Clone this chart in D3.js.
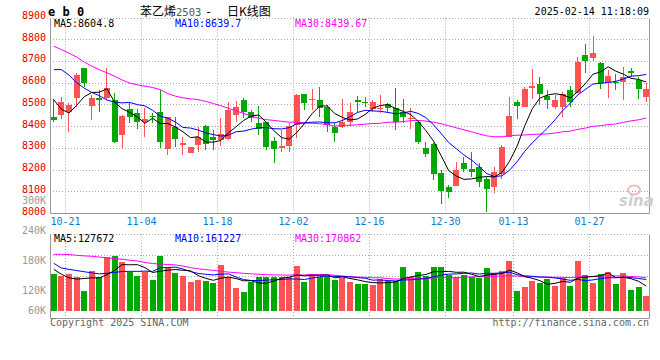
<!DOCTYPE html>
<html><head><meta charset="utf-8">
<script src="https://cdn.jsdelivr.net/npm/d3@7"></script>
<style>body{margin:0;background:#fff}svg{display:block}text{font-family:"DejaVu Sans Mono",monospace;font-size:10px}</style>
</head><body><svg id="c" width="660" height="360"></svg>
<script>
const dates=["10-18","10-21","10-22","10-23","10-24","10-25","10-28","10-29","10-30","10-31","11-01","11-04","11-05","11-06","11-07","11-08","11-11","11-12","11-13","11-14","11-15","11-18","11-19","11-20","11-21","11-22","11-25","11-26","11-27","11-28","11-29","12-02","12-03","12-04","12-05","12-06","12-09","12-10","12-11","12-12","12-13","12-16","12-17","12-18","12-19","12-20","12-23","12-24","12-25","12-26","12-27","12-30","12-31","01-02","01-03","01-06","01-07","01-08","01-09","01-10","01-13","01-14","01-15","01-16","01-17","01-20","01-21","01-22","01-23","01-24","01-27","02-05","02-06","02-07","02-10","02-11","02-12","02-13","02-14"];
const open=[8441,8449,8467,8529,8669,8493,8531,8531,8521,8360,8480,8462,8417,8447,8467,8294,8395,8314,8276,8314,8401,8348,8337,8340,8452,8521,8467,8414,8417,8332,8297,8309,8406,8549,8522,8521,8487,8395,8398,8417,8521,8513,8478,8480,8503,8483,8467,8434,8421,8299,8319,8184,8120,8126,8230,8202,8214,8156,8118,8181,8349,8513,8490,8577,8594,8539,8487,8486,8567,8552,8728,8713,8690,8598,8605,8605,8656,8613,8532];
const high=[8525,8536,8508,8644,8669,8544,8567,8667,8552,8450,8513,8478,8483,8462,8564,8441,8441,8352,8302,8395,8406,8383,8437,8513,8516,8529,8475,8493,8421,8352,8383,8414,8549,8549,8571,8579,8498,8414,8524,8506,8539,8533,8521,8544,8506,8575,8524,8483,8429,8329,8322,8196,8130,8233,8257,8279,8230,8168,8214,8311,8536,8521,8582,8662,8628,8564,8544,8555,8585,8717,8778,8815,8697,8659,8639,8671,8669,8628,8600];
const low=[8417,8432,8371,8487,8582,8429,8467,8521,8322,8299,8414,8386,8352,8414,8299,8268,8306,8268,8274,8279,8291,8291,8309,8337,8421,8438,8420,8360,8291,8230,8283,8283,8345,8472,8475,8444,8371,8325,8391,8401,8463,8490,8467,8460,8463,8380,8414,8386,8319,8257,8150,8043,8069,8126,8191,8168,8120,8003,8092,8156,8349,8434,8487,8524,8498,8478,8478,8441,8490,8552,8644,8702,8570,8529,8567,8518,8628,8524,8509];
const close=[8429,8513,8498,8636,8598,8529,8521,8577,8325,8447,8444,8417,8432,8440,8329,8441,8340,8322,8302,8352,8319,8334,8365,8475,8490,8467,8437,8386,8306,8296,8309,8401,8544,8506,8526,8483,8406,8368,8418,8464,8509,8510,8509,8484,8483,8421,8441,8437,8325,8273,8181,8103,8095,8196,8202,8187,8141,8112,8187,8303,8447,8493,8570,8585,8549,8518,8521,8547,8513,8697,8700,8738,8600,8631,8598,8628,8644,8572,8572];
const ma5=[8521,8478,8460,8495,8535,8555,8556,8572,8510,8480,8463,8442,8413,8436,8412,8412,8396,8374,8347,8351,8327,8326,8334,8369,8397,8426,8447,8451,8417,8378,8347,8340,8371,8411,8457,8492,8493,8458,8440,8428,8433,8454,8482,8495,8499,8481,8468,8453,8421,8379,8331,8264,8195,8170,8155,8157,8164,8168,8166,8186,8238,8308,8400,8480,8529,8543,8549,8544,8530,8559,8596,8639,8650,8673,8653,8639,8620,8615,8603];
const ma10=[8660,8660,8635,8600,8575,8555,8540,8520,8510,8507,8509,8499,8493,8473,8446,8437,8419,8394,8391,8382,8369,8361,8354,8358,8374,8377,8386,8393,8393,8388,8387,8393,8411,8414,8418,8419,8416,8415,8426,8443,8463,8473,8470,8468,8463,8457,8461,8468,8458,8439,8406,8366,8324,8296,8267,8244,8214,8182,8168,8171,8197,8236,8284,8323,8357,8391,8429,8472,8505,8544,8569,8594,8597,8601,8606,8617,8630,8632,8638];
const ma30=[8768,8752,8736,8718,8695,8676,8660,8645,8630,8612,8598,8590,8584,8578,8568,8550,8538,8530,8526,8522,8514,8504,8494,8482,8470,8458,8446,8436,8430,8426,8422,8418,8419,8415,8413,8411,8407,8400,8403,8404,8406,8409,8412,8413,8418,8418,8421,8425,8426,8423,8418,8411,8402,8392,8383,8374,8364,8355,8351,8351,8355,8358,8359,8362,8363,8364,8368,8374,8377,8385,8391,8399,8402,8407,8410,8417,8424,8429,8437];
// volume, thousands of lots
const volume=[189,181,188,172,102,205,175,275,283,251,198,179,198,159,283,225,196,179,147,159,155,145,235,175,119,99,147,175,172,175,172,172,230,150,189,172,181,159,170,150,137,137,133,162,155,155,225,175,199,181,225,225,184,175,184,172,167,220,196,205,256,102,121,153,145,162,128,170,128,256,184,145,189,199,138,193,107,123,77];
const vma5=[213,188,170,163,166.4,169.6,168.4,185.8,208,237.8,236.4,237.2,221.8,197,203.4,208.8,212.2,208.4,206,181.2,167.2,157,168.2,173.8,165.8,154.6,155,143,142.4,153.6,168.2,173.2,184.2,179.8,182.6,182.6,184.4,170.2,174.2,166.4,159.4,150.6,145.4,143.8,144.8,148.4,166,174.4,181.8,187,201,201,202.8,198,198.6,188,176.4,183.6,187.8,192,208.8,195.8,176,167.4,155.4,136.6,141.8,151.6,146.6,168.8,173.2,176.6,180.4,194.6,171,172.8,165.2,152,127.6];
const vma10=[244,220,213,207,201,195,190,193,197,202.1,203,202.8,203.8,202.5,220.6,222.6,224.7,215.1,201.5,192.3,188,184.6,188.3,189.9,173.5,160.9,156,155.6,158.1,159.7,161.4,164.1,163.6,161.1,168.1,175.4,178.8,177.2,177,174.5,171,167.5,157.8,159,155.6,153.9,158.3,159.9,162.8,165.9,174.7,183.5,188.6,189.9,192.8,194.5,188.7,193.2,192.9,195.3,198.4,186.1,179.8,177.6,173.7,172.7,168.8,163.8,157,162.1,154.9,159.2,166,170.6,169.9,173,170.9,166.2,161.1];
const vma30=[290,290,289,285,282,280,276,272,268,265,260,256,248,243,240,238,236,230,222,216,212,208,203,199,196,193,190,188,186,184.7,184.1,183.8,185.2,184.5,187.4,186.3,186.5,182.6,178.9,175.5,173.5,172.1,169.9,170,165.7,163.4,164.4,164.2,166,166.7,169,171.7,170,170,172.2,174.6,175.3,176.8,177.6,178.6,181.4,179,175.4,175.5,174,173.7,171.9,172.3,170.9,174.4,176,176.3,178.1,179.4,178.8,180.1,176.1,174.4,170.3];
const priceTicks=[8000,8100,8200,8300,8400,8500,8600,8700,8800,8900];
const volTicks=[60,120,180,240,300];
const dateTicks=["10-21","11-04","11-18","12-02","12-16","12-30","01-13","01-27"];
const priceLegend=[{t:"MA5:8604.8",c:"#000"},{t:"MA10:8639.7",c:"#0000ff"},{t:"MA30:8439.67",c:"#ff00ff"}];
const volLegend=[{t:"MA5:127672",c:"#000"},{t:"MA10:161227",c:"#0000ff"},{t:"MA30:170862",c:"#ff00ff"}];

const RED="#ff5353",GREEN="#00a800",GRID="#aaaaaa",BORDER="#9a9a9a";
const svg=d3.select("#c");
const L=50,R=650,mainTop=17.5,mainBot=213,volTop=234,volBot=318,volBase=311;
const x=d3.scaleBand().domain(dates).range([L,R]);
const bw=x.bandwidth();
const cx=d=>x(d)+bw/2;
const y=d3.scaleLinear().domain([8000,8900]).range([mainBot,mainTop]);
const yv=d3.scaleLinear().domain([0,394]).range([volBase,volTop]);
const yvLab=d3.scaleLinear().domain([0,300]).range([354,204]);
const px=v=>Math.round(v)+0.5;
const g=svg.append("g");

// grid: price
g.selectAll(".hg").data(priceTicks.slice(1)).join("line")
 .attr("x1",L).attr("x2",R-1).attr("y1",d=>px(y(d))).attr("y2",d=>px(y(d)))
 .attr("stroke",GRID).attr("stroke-dasharray","1,2");
// grid: volume horizontal (quarters of the panel)
const vq=[0.25,0.5,0.75].map(f=>volTop+(volBot-volTop)*f);
g.selectAll(".vhg").data(vq).join("line")
 .attr("x1",L).attr("x2",R-1).attr("y1",d=>px(d)).attr("y2",d=>px(d))
 .attr("stroke",GRID).attr("stroke-dasharray","1,2");
// vertical date gridlines
const gx=d=>px(x(d)+bw);
g.selectAll(".vg").data(dateTicks).join("line")
 .attr("x1",gx).attr("x2",gx).attr("y1",mainTop).attr("y2",mainBot)
 .attr("stroke",GRID).attr("stroke-dasharray","1,2");
g.selectAll(".vg2").data(dateTicks).join("line")
 .attr("x1",gx).attr("x2",gx).attr("y1",volTop).attr("y2",volBot+3)
 .attr("stroke",GRID).attr("stroke-dasharray","1,2");

// panels borders
function panel(t,b){
  g.append("line").attr("x1",L).attr("x2",R-1).attr("y1",px(t)).attr("y2",px(t)).attr("stroke",GRID).attr("stroke-dasharray","1,2");
  g.append("path").attr("d",`M${L+0.5},${px(t)}V${px(b)}H${R-0.5}V${px(t)}`).attr("fill","none").attr("stroke",BORDER);
}
panel(mainTop,mainBot);
panel(volTop,volBot);

// watermark
const wm=g.append("g");
wm.append("ellipse").attr("cx",634).attr("cy",190).attr("rx",6).attr("ry",4.5).attr("fill","none").attr("stroke","#f4b8b8").attr("stroke-width",2);
wm.append("text").attr("x",619).attr("y",206).text("sina").attr("fill","#cfcfcf")
 .style("font-family","Verdana,'DejaVu Sans',sans-serif").style("font-size","15px").style("font-style","italic").style("font-weight","bold");

// candles
const idx=d3.range(dates.length);
const col=i=>close[i]>=open[i]?RED:GREEN;
const cg=g.append("g").attr("shape-rendering","crispEdges");
cg.selectAll(".wick").data(idx).join("line")
 .attr("x1",i=>px(cx(dates[i])-0.5)).attr("x2",i=>px(cx(dates[i])-0.5))
 .attr("y1",i=>y(high[i])).attr("y2",i=>y(low[i])).attr("stroke",col);
cg.selectAll(".body").data(idx).join("rect")
 .attr("x",i=>Math.round(cx(dates[i])-3)).attr("width",6)
 .attr("y",i=>y(Math.max(open[i],close[i])))
 .attr("height",i=>Math.max(1,Math.abs(y(open[i])-y(close[i]))))
 .attr("fill",col);

// volume bars
cg.selectAll(".vb").data(idx).join("rect")
 .attr("x",i=>Math.round(cx(dates[i])-3)).attr("width",6)
 .attr("y",i=>yv(volume[i])).attr("height",i=>volBase-yv(volume[i]))
 .attr("fill",col);

// MA lines
const lineP=arr=>d3.line().x((d,i)=>cx(dates[i])).y(d=>y(d))(arr);
const lineV=arr=>d3.line().x((d,i)=>cx(dates[i])).y(d=>yv(d))(arr);
[[ma30,"#ff00ff"],[ma10,"#0000ff"],[ma5,"#000"]].forEach(([a,c])=>
  g.append("path").attr("d",lineP(a)).attr("fill","none").attr("stroke",c).attr("stroke-width",1));
[[vma30,"#ff00ff"],[vma10,"#0000ff"],[vma5,"#000"]].forEach(([a,c])=>
  g.append("path").attr("d",lineV(a)).attr("fill","none").attr("stroke",c).attr("stroke-width",1));

// axis labels
g.selectAll(".pl").data(priceTicks).join("text")
 .attr("x",46).attr("y",d=>y(d)+1.5).attr("text-anchor","end").attr("fill","#e00000").text(d=>d);
g.selectAll(".vl").data(volTicks).join("text")
 .attr("x",46).attr("y",d=>Math.min(volBot-4,yvLab(d))).attr("text-anchor","end").attr("fill","#999").text(d=>d+"K");
g.selectAll(".dl").data(dateTicks).join("text")
 .attr("x",gx).attr("y",225).attr("text-anchor","middle").attr("fill","#0a7ed0").text(d=>d);

// legends
const legX=[54,175,295];
g.selectAll(".lg1").data(priceLegend).join("text").attr("x",(d,i)=>legX[i]).attr("y",27).attr("fill",d=>d.c).text(d=>d.t);
g.selectAll(".lg2").data(volLegend).join("text").attr("x",(d,i)=>legX[i]).attr("y",241.5).attr("fill",d=>d.c).text(d=>d.t);

// header
g.append("text").attr("x",48).attr("y",16).text("e b 0").style("font-weight","bold").style("font-size","12px").attr("fill","#000");
const tt=g.append("text").attr("x",140).attr("y",15.5).attr("fill","#000").style("font-family","'Noto Sans CJK SC',sans-serif").style("font-size","12px");
tt.append("tspan").text("苯乙烯");
tt.append("tspan").text("2503").attr("fill","#555").style("font-family","'DejaVu Sans Mono',monospace").style("font-size","10.5px");
tt.append("tspan").attr("x",205).text("-").style("font-family","'DejaVu Sans Mono',monospace");
tt.append("tspan").attr("x",227).text("日K线图");
g.append("text").attr("x",649).attr("y",15).attr("text-anchor","end").attr("fill","#000").text("2025-02-14 11:18:09");

// footer
g.append("text").attr("x",50).attr("y",326).attr("fill","#666").text("Copyright 2025 SINA.COM");
g.append("text").attr("x",649).attr("y",326).attr("text-anchor","end").attr("fill","#666").text("http://finance.sina.com.cn");
</script></body></html>
